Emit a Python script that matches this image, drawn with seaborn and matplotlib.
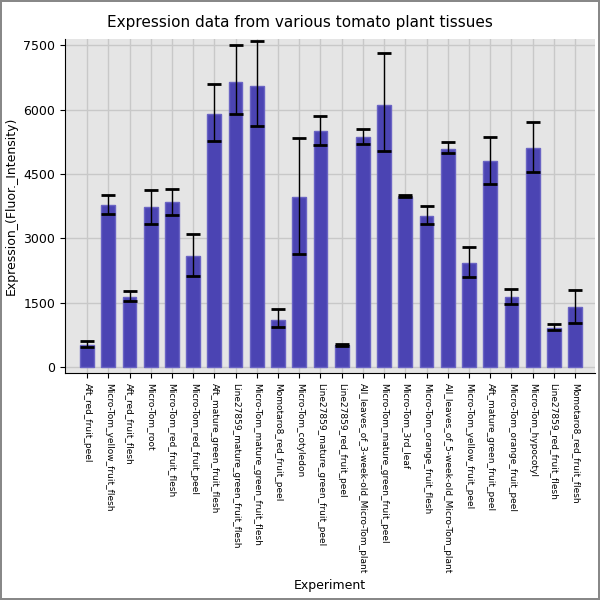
import matplotlib
matplotlib.use("Agg")
import matplotlib.pyplot as plt
import seaborn as sns
import numpy as np
import pandas as pd

categories = ["Aft_red_fruit_peel","Micro-Tom_yellow_fruit_flesh","Aft_red_fruit_flesh","Micro-Tom_root",
 "Micro-Tom_red_fruit_flesh","Micro-Tom_red_fruit_peel","Aft_mature_green_fruit_flesh",
 "Line27859_mature_green_fruit_flesh","Micro-Tom_mature_green_fruit_flesh","Momotaro8_red_fruit_peel",
 "Micro-Tom_cotyledon","Line27859_mature_green_fruit_peel","Line27859_red_fruit_peel",
 "All_leaves_of_3-week-old_Micro-Tom_plant","Micro-Tom_mature_green_fruit_peel","Micro-Tom_3rd_leaf",
 "Micro-Tom_orange_fruit_flesh","All_leaves_of_5-week-old_Micro-Tom_plant","Micro-Tom_yellow_fruit_peel",
 "Aft_mature_green_fruit_peel","Micro-Tom_orange_fruit_peel","Micro-Tom_hypocotyl",
 "Line27859_red_fruit_flesh","Momotaro8_red_fruit_flesh"]
values = [510,3769,1620,3724,3836,2578,5900,6640,6560,1100,3971,5500,500,5360,6100,3971,3522,5080,2421,4802,1620,5110,900,1400]
err_high = [600,4000,1760,4128,4151,3088,6600,7520,7600,1340,5350,5850,540,5550,7320,4000,3750,5250,2787,5370,1820,5720,1000,1800]
err_low = [470,3573,1545,3342,3544,2122,5270,5900,5630,920,2630,5180,480,5200,5030,3960,3335,4990,2084,4270,1460,4550,860,1020]

df = pd.DataFrame({"Experiment": categories, "val": values})
fig = plt.figure(figsize=(6, 6), dpi=100, facecolor="white", edgecolor="#888888", linewidth=1.5)
ax = fig.add_axes([0.108, 0.378, 0.884, 0.557])
ax.set_facecolor("#e5e5e5")
sns.barplot(data=df, x="Experiment", y="val", color="#4b44b3", saturation=1, width=0.65, ax=ax,
            edgecolor="#6a64c4", linewidth=1, zorder=2)
x = np.arange(len(categories))
v = np.array(values)
ax.errorbar(x, v, yerr=[v - np.array(err_low), np.array(err_high) - v], fmt="none",
            ecolor="black", elinewidth=1, capsize=5, capthick=2, zorder=3)
ax.set_ylim(-150, 7650)
ax.set_xlim(-1.05, len(categories) - 0.05)
ax.set_yticks([0, 1500, 3000, 4500, 6000, 7500])
ax.grid(True, color="#c8c8c8", linewidth=1, zorder=0)
ax.set_axisbelow(True)
for s in ["top", "right"]:
    ax.spines[s].set_visible(False)
ax.spines["left"].set_color("black")
ax.spines["bottom"].set_color("black")
ax.set_xticks(x)
ax.set_xticklabels(categories, rotation=-90, fontsize=6.5)
ax.tick_params(axis="y", labelsize=9)
ax.set_xlabel("Experiment", fontsize=9, labelpad=4)
ax.set_ylabel("Expression_(Fluor._Intensity)", fontsize=9)
fig.suptitle("Expression data from various tomato plant tissues", fontsize=11, y=0.975)
fig.savefig("out.png", dpi=100, edgecolor=fig.get_edgecolor())
